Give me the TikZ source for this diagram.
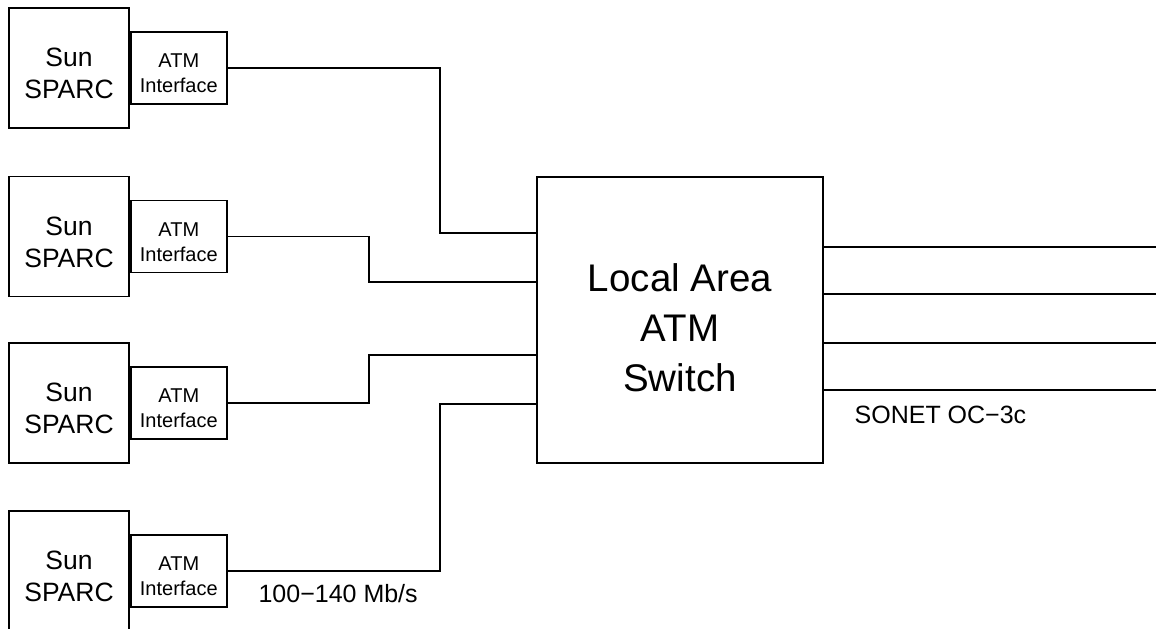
\documentclass[tikz,border=0pt]{standalone}
\usepackage{fontspec}
\setmainfont{Liberation Sans}
\usepackage{tikz}
\usetikzlibrary{positioning}

% raises the top of a node's first line, to set its text lower in the box
\newcommand{\toprule}[1]{\rule{0pt}{#1}}

\begin{document}
\begin{tikzpicture}[x=0.5pt, y=-0.5pt, line width=0.9pt,
		host/.style={draw, minimum width=60pt, minimum height=60pt, inner sep=0pt, align=center, font=\fontsize{13.25}{16}\selectfont},
		nic/.style={draw, minimum width=48pt, minimum height=36pt, inner sep=0pt, align=center, font=\fontsize{10}{12.5}\selectfont},
		atmswitch/.style={draw, minimum width=143pt, minimum height=143pt, inner sep=0pt, align=center, font=\fontsize{19.25}{25}\selectfont},
		rate/.style={font=\fontsize{12.5}{15}\selectfont, inner sep=2pt}]
			\useasboundingbox (0,0) rectangle (1156,628);

			\node[host] (sun1) at (69,68) {\toprule{14.7pt}Sun\\SPARC};
			\node[host] (sun2) [below=23.35pt of sun1] {\toprule{14.7pt}Sun\\SPARC};
			\node[host] (sun3) [below=22.35pt of sun2] {\toprule{14.7pt}Sun\\SPARC};
			\node[host] (sun4) [below=23.1pt of sun3] {\toprule{14.7pt}Sun\\SPARC};

			\node[nic] (atm1) [right=0pt of sun1] {\toprule{12.2pt}ATM\\Interface};
			\node[nic] (atm2) [right=0pt of sun2] {\toprule{12.2pt}ATM\\Interface};
			\node[nic] (atm3) [right=0pt of sun3] {\toprule{12.2pt}ATM\\Interface};
			\node[nic] (atm4) [right=0pt of sun4] {\toprule{12.2pt}ATM\\Interface};

			\node[atmswitch] (sw) at (680,320) {\toprule{22pt}Local Area\\ATM\\Switch};

			% ports on the switch
			\path (sw.north west) ++(0,57) coordinate (in1);
			\path (sw.north west) ++(0,106) coordinate (in2);
			\path (sw.north west) ++(0,179) coordinate (in3);
			\path (sw.north west) ++(0,228) coordinate (in4);
			\path (sw.north east) ++(333,71) coordinate (out1);
			\path (sw.north east) ++(333,118) coordinate (out2);
			\path (sw.north east) ++(333,167) coordinate (out3);
			\path (sw.north east) ++(333,214) coordinate (out4);

			\draw (atm1.east) -| ([xshift=-48pt]in1) -- (in1);
			\draw (atm2.east) -| ([xshift=-83.5pt]in2) -- (in2);
			\draw (atm3.east) -| ([xshift=-83.5pt]in3) -- (in3);
			\draw (atm4.east) -| node[rate, pos=0.26, below=4pt] {100−140 Mb/s} ([xshift=-48pt]in4) -- (in4);

			\foreach \i in {1,2,3}
				\draw (sw.east |- out\i) -- (out\i);
			\draw (sw.east |- out4) -- node[rate, pos=0.35, below=5.5pt] {SONET OC−3c} (out4);
		\end{tikzpicture}
\end{document}
